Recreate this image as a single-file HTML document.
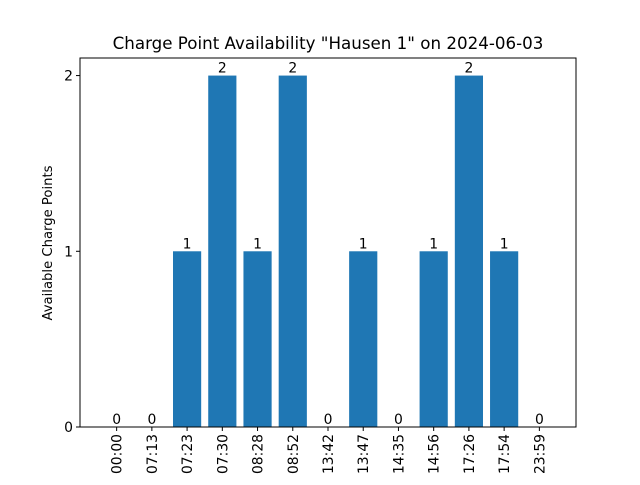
<!DOCTYPE html>
<html><head><meta charset="utf-8"><style>
body{margin:0;background:#fff;}
svg{font-family:"DejaVu Sans","Liberation Sans",sans-serif;}
</style></head><body>
<svg id="chart" width="640" height="480">
<rect width="640" height="480" fill="#fff"/>
<text x="328" y="49" text-anchor="middle" font-size="16.7">Charge Point Availability "Hausen 1" on 2024-06-03</text>
<g id="plot"></g>
<text transform="translate(52,243) rotate(-90)" text-anchor="middle" font-size="13.2">Available Charge Points</text>
<rect x="80" y="58" width="496" height="369" fill="none" stroke="#000" stroke-width="1"/>
</svg>
<script>
const categories=["00:00","07:13","07:23","07:30","08:28","08:52","13:42","13:47","14:35","14:56","17:26","17:54","23:59"];
const values=[0,0,1,2,1,2,0,1,0,1,2,1,0];
const yTicks=[0,1,2];
const L=80,R=576,T=58,B=427;
const xmin=-1.04,xmax=13.04,ymax=2.1;
const xs=v=>L+(v-xmin)/(xmax-xmin)*(R-L);
const ys=v=>B-v/ymax*(B-T);
const g=document.getElementById('plot');
const NS='http://www.w3.org/2000/svg';
function mk(t,a){const e=document.createElementNS(NS,t);for(const k in a)e.setAttribute(k,a[k]);g.appendChild(e);return e;}
const bw=0.8*(R-L)/(xmax-xmin);
categories.forEach((c,i)=>{
  const x=xs(i),v=values[i];
  const r=mk('rect',{x:x-bw/2,y:ys(v),width:bw,height:B-ys(v),fill:'#1f77b4'});
  
  
  const lb=mk('text',{x:x,y:ys(v)-3,'text-anchor':'middle','font-size':'13.9'});
  lb.textContent=v;
  
  
  const tk=mk('line',{x1:x,x2:x,y1:B,y2:B+4,stroke:'#000'});
  
  
  const tl=mk('text',{transform:`translate(${x+5},${B+7}) rotate(-90)`,'text-anchor':'end','font-size':'13.9'});
  tl.textContent=c;
  
  
});
yTicks.forEach(t=>{
  const y=ys(t);
  const tk=mk('line',{x1:L-4,x2:L,y1:y,y2:y,stroke:'#000'});
  
  
  const tl=mk('text',{x:L-7,y:y+5,'text-anchor':'end','font-size':'13.9'});
  tl.textContent=t;
  
  
});
</script>
</body></html>
